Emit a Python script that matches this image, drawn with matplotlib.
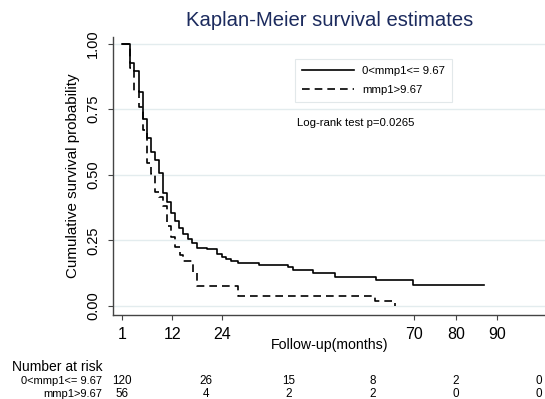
import matplotlib
matplotlib.use("Agg")
import matplotlib.pyplot as plt
import matplotlib.transforms as mtransforms

plt.rcParams['font.family'] = ['Liberation Sans', 'DejaVu Sans']

# Kaplan-Meier step points (time in months, survival after the step)
low_t = [0, 1.85, 2.81, 3.93, 4.89, 5.85, 6.81, 7.93, 8.89, 9.85, 10.81, 11.77,
         12.73, 13.69, 14.65, 15.77, 16.73, 17.85, 20.25, 22.81, 23.85, 24.89,
         26.01, 27.85, 32.89, 39.85, 40.9, 45.85, 51.05, 60.8, 69.85, 86.8]
low_s = [1.0, 0.925, 0.897, 0.814, 0.714, 0.639, 0.588, 0.556, 0.505, 0.432,
         0.397, 0.355, 0.324, 0.298, 0.274, 0.254, 0.239, 0.222, 0.216, 0.198,
         0.188, 0.178, 0.171, 0.164, 0.155, 0.147, 0.137, 0.124, 0.112, 0.099,
         0.080, 0.080]

high_t = [0, 1.85, 2.81, 3.93, 4.89, 5.85, 6.9, 7.85, 8.89, 9.85, 10.8, 11.77,
          12.73, 13.8, 14.65, 16.9, 17.85, 27.85, 60.7, 65.45]
high_s = [1.0, 0.906, 0.818, 0.757, 0.670, 0.544, 0.502, 0.435, 0.417, 0.381,
          0.305, 0.264, 0.224, 0.195, 0.173, 0.13, 0.076, 0.038, 0.020, 0.0]

labels = ["0<mmp1<= 9.67", "mmp1>9.67"]

# number at risk table
risk_times = [0, 20, 40, 60, 80, 100]
risk_low = [120, 26, 15, 8, 2, 0]
risk_high = [56, 4, 2, 2, 0, 0]

xtick_pos = [0, 12, 24, 70, 80, 90]
xtick_lab = ["1", "12", "24", "70", "80", "90"]
ytick_pos = [0, 0.25, 0.5, 0.75, 1.0]
ytick_lab = ["0.00", "0.25", "0.50", "0.75", "1.00"]

W, H = 545, 399
fig = plt.figure(figsize=(W / 100, H / 100), dpi=100)
ax = fig.add_axes([113.3 / W, 1 - 315 / H, (W - 113.3) / W, (315 - 37) / H])

ax.step(low_t, low_s, where='post', color='black', lw=1.2, label=labels[0])
ax.step(high_t, high_s, where='post', color='black', lw=1.2,
        linestyle=(0, (4.6, 3.0)), label=labels[1])

ax.set_xlim(-2.16, 101.4)
ax.set_ylim(-0.0343, 1.0248)

for s in ['top', 'right']:
    ax.spines[s].set_visible(False)
for s in ['left', 'bottom']:
    ax.spines[s].set_color('#444444')
    ax.spines[s].set_linewidth(1.0)

ax.set_xticks(xtick_pos)
ax.set_xticklabels(xtick_lab, fontsize=11.5)
ax.set_yticks(ytick_pos)
ax.set_yticklabels(ytick_lab, fontsize=10.5, rotation=90, va='center')
ax.tick_params(axis='both', direction='out', length=3.6, color='#444444')
ax.tick_params(axis='x', pad=5)
ax.tick_params(axis='y', pad=6)
ax.yaxis.grid(True, color='#e3ecee', lw=1.0)
ax.set_axisbelow(True)

ax.set_ylabel("Cumulative survival probability", fontsize=10.9)
ax.yaxis.set_label_coords(-0.077, 0.5)
ax.set_xlabel("Follow-up(months)", fontsize=10.2)
ax.xaxis.set_label_coords(0.502, -0.083)

fig.text(330 / W, 1 - 21 / H, "Kaplan-Meier survival estimates", fontsize=14.6,
         color='#1c2b5e', ha='center', va='center')

leg = ax.legend(loc='upper left', bbox_to_anchor=(295 / W, 1 - 59.3 / H),
                bbox_transform=fig.transFigure, fontsize=8.2, fancybox=False,
                edgecolor='#e2e8ea', framealpha=1, borderpad=0.6,
                handlelength=4.6, handletextpad=0.7, labelspacing=0.75,
                borderaxespad=0)
leg.get_frame().set_linewidth(0.8)

fig.text(296.7 / W, 1 - 123.3 / H, "Log-rank test p=0.0265", fontsize=8.2,
         va='center', ha='left')

# number at risk
trans = mtransforms.blended_transform_factory(ax.transData, fig.transFigure)
fig.text(11.7 / W, 1 - 366.7 / H, "Number at risk", fontsize=10, va='center')
rows = [(labels[0], risk_low, 381), (labels[1], risk_high, 394)]
for name, vals, ypx in rows:
    fig.text(101.7 / W, 1 - ypx / H, name, fontsize=8, ha='right', va='center')
    for t, v in zip(risk_times, vals):
        ax.text(t, 1 - ypx / H, str(v), transform=trans, fontsize=8.4,
                ha='center', va='center', clip_on=False)

fig.savefig("out.png", dpi=100)
